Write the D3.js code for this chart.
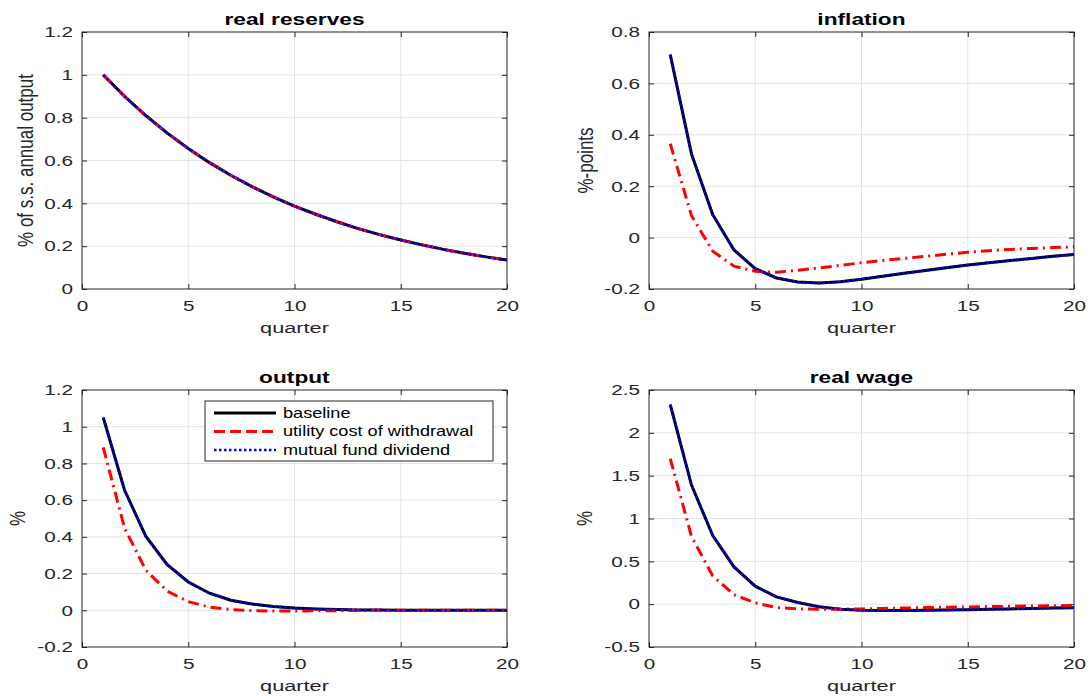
<!DOCTYPE html>
<html lang="en">
<head>
<meta charset="utf-8">
<title>impulse responses</title>
<script src="https://cdn.jsdelivr.net/npm/d3@7"></script>
<style>
  body { margin: 0; background: #fff; }
  svg { display: block; }
  text { font-family: 'Liberation Sans', Arial, sans-serif; fill: #262626; }
  .title { font-weight: bold; font-size: 16px; fill: #000;
    transform-box: fill-box; transform-origin: center; transform: scaleX(1.42); }
  .tick text { font-size: 15px; transform-box: fill-box; transform: scaleX(1.38); }
  .xax .tick text { transform-origin: center; }
  .yax .tick text { transform-origin: right center; }
  .xlab { font-size: 15px; transform-box: fill-box; transform-origin: center; transform: scaleX(1.45); }
  .ylab { font-size: 17px; }
  .leg { font-size: 14.5px; fill: #000; transform-box: fill-box; transform-origin: left center; transform: scaleX(1.25); }
  .grid line { stroke: #e3e3e3; stroke-width: 1; }
  .box { fill: none; stroke: #262626; stroke-width: 1; }
</style>
</head>
<body>
<div id="chart"></div>
<script>
// quarters 1..20
const quarters = d3.range(1, 21);

// real reserves (all three scenarios coincide)
const reservesBase = [1, 0.9, 0.81, 0.729, 0.656, 0.590, 0.531, 0.478, 0.430, 0.387,
  0.349, 0.314, 0.282, 0.254, 0.229, 0.206, 0.185, 0.167, 0.150, 0.135];
const reservesUtil = reservesBase.slice();
const reservesFund = reservesBase.slice();

// inflation
const inflBase = [0.712, 0.325, 0.089, -0.048, -0.121, -0.157, -0.173, -0.177, -0.172, -0.162,
  -0.150, -0.139, -0.128, -0.117, -0.107, -0.098, -0.089, -0.081, -0.073, -0.066];
const inflUtil = [0.365, 0.085, -0.053, -0.111, -0.131, -0.135, -0.127, -0.118, -0.108, -0.098,
  -0.089, -0.081, -0.073, -0.065, -0.057, -0.051, -0.046, -0.042, -0.039, -0.036];
const inflFund = inflBase.slice();

// output
const outBase = [1.05, 0.655, 0.404, 0.25, 0.154, 0.093, 0.055, 0.034, 0.021, 0.012,
  0.007, 0.004, 0.002, 0.001, 0, 0, 0, 0, 0, 0];
const outUtil = [0.887, 0.449, 0.219, 0.105, 0.047, 0.017, 0.004, -0.002, -0.004, -0.004,
  -0.003, -0.002, -0.001, 0, 0, 0, 0, 0, 0, 0];
const outFund = outBase.slice();

// real wage
const wageBase = [2.33, 1.39, 0.80, 0.435, 0.21, 0.085, 0.02, -0.03, -0.058, -0.07,
  -0.075, -0.075, -0.072, -0.068, -0.064, -0.059, -0.055, -0.05, -0.046, -0.042];
const wageUtil = [1.70, 0.79, 0.33, 0.11, 0.015, -0.04, -0.055, -0.06, -0.058, -0.055,
  -0.05, -0.045, -0.04, -0.036, -0.032, -0.028, -0.025, -0.022, -0.019, -0.016];
const wageFund = wageBase.slice();

const legendNames = ["baseline", "utility cost of withdrawal", "mutual fund dividend"];

const panels = [
  { title: "real reserves", ylabel: "% of s.s. annual output", y: [0, 1.2], step: 0.2,
    series: [reservesBase, reservesUtil, reservesFund], left: 82, top: 32, yl: -49 },
  { title: "inflation", ylabel: "%-points", y: [-0.2, 0.8], step: 0.2,
    series: [inflBase, inflUtil, inflFund], left: 649, top: 32, yl: -56 },
  { title: "output", ylabel: "%", y: [-0.2, 1.2], step: 0.2,
    series: [outBase, outUtil, outFund], left: 82, top: 390, yl: -57, legend: true },
  { title: "real wage", ylabel: "%", y: [-0.5, 2.5], step: 0.5,
    series: [wageBase, wageUtil, wageFund], left: 649, top: 390, yl: -57 }
];

const W = 1091, H = 696, pw = 425, ph = 257;
const styles = [
  { color: "#000000", width: 3, dash: null },
  { color: "#ff0000", width: 3, dash: "11,5,2,5" },
  { color: "#0000ff", width: 2.5, dash: "2.5,2.5" }
];

const svg = d3.select("#chart").append("svg").attr("width", W).attr("height", H);

panels.forEach(p => {
  const g = svg.append("g").attr("transform", `translate(${p.left},${p.top})`);
  const x = d3.scaleLinear().domain([0, 20]).range([0, pw]);
  const y = d3.scaleLinear().domain(p.y).range([ph, 0]);
  const yt = d3.range(p.y[0], p.y[1] + p.step / 2, p.step).map(v => +v.toFixed(2));
  const xt = [0, 5, 10, 15, 20];
  const fmt = v => (Math.abs(v) < 1e-9 ? "0" : String(v));

  // grid
  g.append("g").attr("class", "grid").selectAll("line.v").data(xt.slice(1, -1)).join("line")
    .attr("x1", d => x(d)).attr("x2", d => x(d)).attr("y1", 0).attr("y2", ph);
  g.append("g").attr("class", "grid").selectAll("line.h").data(yt.slice(1, -1)).join("line")
    .attr("x1", 0).attr("x2", pw).attr("y1", d => y(d)).attr("y2", d => y(d));

  // axes (ticks inward, on all four sides)
  g.append("g").attr("class", "xax").attr("transform", `translate(0,${ph})`)
    .call(d3.axisBottom(x).tickValues(xt).tickFormat(fmt).tickSizeInner(-5).tickSizeOuter(0).tickPadding(11))
    .call(a => a.select(".domain").remove());
  g.append("g").attr("class", "yax")
    .call(d3.axisLeft(y).tickValues(yt).tickFormat(fmt).tickSizeInner(-5).tickSizeOuter(0).tickPadding(9))
    .call(a => a.select(".domain").remove());
  g.append("g").attr("transform", `translate(${pw},0)`)
    .call(d3.axisRight(y).tickValues(yt).tickFormat("").tickSizeInner(-5).tickSizeOuter(0))
    .call(a => a.select(".domain").remove());
  g.append("g")
    .call(d3.axisTop(x).tickValues(xt).tickFormat("").tickSizeInner(-5).tickSizeOuter(0))
    .call(a => a.select(".domain").remove());
  g.selectAll(".tick line").attr("stroke", "#262626");
  g.selectAll(".tick text").attr("fill", "#262626");

  // lines
  const line = d3.line().x((d, i) => x(quarters[i])).y(d => y(d));
  p.series.forEach((s, i) => {
    const st = styles[i];
    g.append("path").datum(s).attr("d", line)
      .attr("fill", "none").attr("stroke", st.color).attr("stroke-width", st.width)
      .attr("stroke-dasharray", st.dash);
  });

  g.append("rect").attr("class", "box").attr("width", pw).attr("height", ph);

  // labels
  g.append("text").attr("class", "title").attr("x", pw / 2).attr("y", -7)
    .attr("text-anchor", "middle").text(p.title);
  g.append("text").attr("class", "xlab").attr("x", pw / 2).attr("y", ph + 44)
    .attr("text-anchor", "middle").text("quarter");
  g.append("text").attr("class", "ylab")
    .attr("transform", `translate(${p.yl},${ph / 2}) rotate(-90) scale(1,1.3)`)
    .attr("text-anchor", "middle").text(p.ylabel);

  if (p.legend) {
    const lg = g.append("g").attr("transform", `translate(123,11)`);
    lg.append("rect").attr("width", 288).attr("height", 60)
      .attr("fill", "#fff").attr("stroke", "#262626").attr("stroke-width", 1);
    legendNames.forEach((n, i) => {
      const yy = 12 + i * 18.5;
      const st = styles[i];
      lg.append("line").attr("x1", 9).attr("x2", 71).attr("y1", yy).attr("y2", yy)
        .attr("stroke", st.color).attr("stroke-width", st.width)
        .attr("stroke-dasharray", i === 1 ? "11,5" : st.dash);
      lg.append("text").attr("class", "leg").attr("x", 78).attr("y", yy + 5).text(n);
    });
  }
});
</script>
</body>
</html>
